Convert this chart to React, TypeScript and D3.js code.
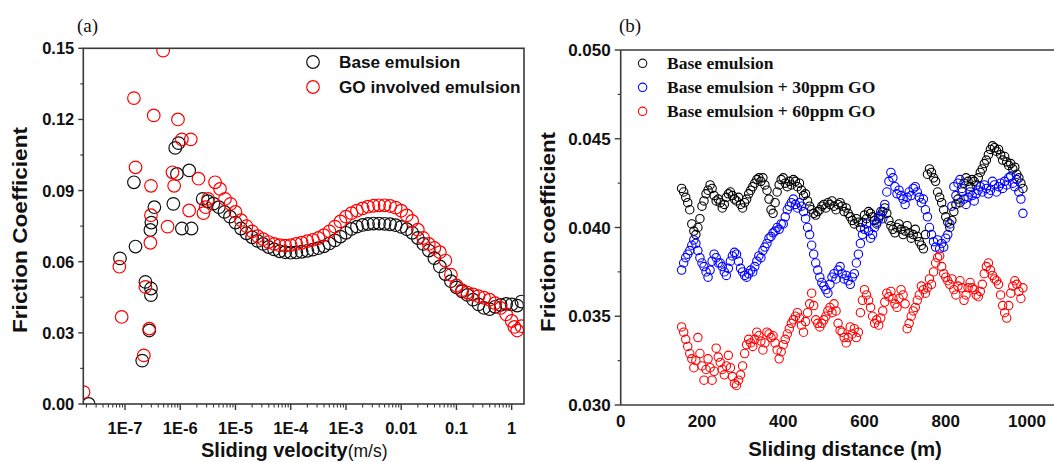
import React from "react";
import * as d3 from "d3";

const W = 1054;
const H = 462;
const SANS = "'Liberation Sans', Arial, Helvetica, sans-serif";
const SERIF = "'Liberation Serif', 'Times New Roman', serif";

// ---------- Panel (a): friction coefficient vs sliding velocity ----------
const velTicks = [1e-7, 1e-6, 1e-5, 1e-4, 1e-3, 0.01, 0.1, 1];
const velTickLabels = ["1E-7", "1E-6", "1E-5", "1E-4", "1E-3", "0.01", "0.1", "1"];
const cofTicksA = [0, 0.03, 0.06, 0.09, 0.12, 0.15];
const cofTickLabelsA = ["0.00", "0.03", "0.06", "0.09", "0.12", "0.15"];
const legendA = ["Base emulsion", "GO involved emulsion"];

const baseEmulsionA: [number, number][] = [
  [2.2e-8, 0.0], [8.1e-8, 0.0614], [1.45e-7, 0.0935], [1.55e-7, 0.0664], [2.05e-7, 0.0183],
  [2.34e-7, 0.0515], [2.75e-7, 0.031], [2.95e-7, 0.0487], [2.95e-7, 0.0459], [2.88e-7, 0.0734],
  [3.0e-7, 0.0765], [3.4e-7, 0.083], [7.5e-7, 0.0844], [8.1e-7, 0.108], [9.3e-7, 0.11],
  [8.7e-7, 0.097], [1.07e-6, 0.074], [1.45e-6, 0.0985], [1.6e-6, 0.074], [2.55e-6, 0.0865],
  [3.16e-6, 0.0855], [3.98e-6, 0.0845], [5.01e-6, 0.083], [6.31e-6, 0.081], [7.94e-6, 0.079],
  [1e-5, 0.0765], [1.26e-5, 0.074], [1.58e-5, 0.072], [2.0e-5, 0.0703], [2.51e-5, 0.0688],
  [3.16e-5, 0.0675], [3.98e-5, 0.0662], [5.01e-5, 0.0652], [6.31e-5, 0.0644], [7.94e-5, 0.064],
  [1e-4, 0.0638], [1.26e-4, 0.0639], [1.58e-4, 0.0642], [2.0e-4, 0.0646], [2.51e-4, 0.0651],
  [3.16e-4, 0.0657], [3.98e-4, 0.0665], [5.01e-4, 0.0677], [6.31e-4, 0.069], [7.94e-4, 0.0706],
  [1e-3, 0.0722], [1.26e-3, 0.0738], [1.58e-3, 0.0748], [2.0e-3, 0.0755], [2.51e-3, 0.0759],
  [3.16e-3, 0.0761], [3.98e-3, 0.0761], [5.01e-3, 0.076], [6.31e-3, 0.0758], [7.94e-3, 0.0754],
  [0.01, 0.0747], [0.0126, 0.0737], [0.0158, 0.0722], [0.02, 0.07], [0.0251, 0.0675],
  [0.0316, 0.0647], [0.0398, 0.0615], [0.0501, 0.058], [0.0631, 0.0548], [0.0794, 0.0518],
  [0.1, 0.0492], [0.126, 0.0475], [0.158, 0.046], [0.2, 0.044], [0.251, 0.042],
  [0.316, 0.0405], [0.398, 0.04], [0.501, 0.041], [0.631, 0.0418], [0.794, 0.0422],
  [1.0, 0.042], [1.26, 0.0415], [1.5, 0.0432],
];

const goEmulsionA: [number, number][] = [
  [1.78e-8, 0.005], [7.9e-8, 0.0579], [8.7e-8, 0.0367], [1.45e-7, 0.129], [1.55e-7, 0.0998],
  [2.19e-7, 0.0205], [2.34e-7, 0.0494], [2.75e-7, 0.0318], [2.88e-7, 0.068], [2.95e-7, 0.092],
  [2.95e-7, 0.0796], [3.31e-7, 0.1217], [4.9e-7, 0.149], [5.9e-7, 0.0748], [7.24e-7, 0.0977],
  [7.76e-7, 0.092], [9.1e-7, 0.12], [1.07e-6, 0.1116], [1.45e-6, 0.0816], [1.55e-6, 0.1116],
  [2.14e-6, 0.095], [2.63e-6, 0.0805], [2.88e-6, 0.083], [3.2e-6, 0.0865],
  [4.27e-6, 0.0935], [5.25e-6, 0.0907], [6.46e-6, 0.0865], [8.13e-6, 0.0844],
  [1e-5, 0.081], [1.26e-5, 0.0775], [1.58e-5, 0.075], [2.0e-5, 0.0728], [2.51e-5, 0.0708],
  [3.16e-5, 0.0695], [3.98e-5, 0.0683], [5.01e-5, 0.0675], [6.31e-5, 0.067], [7.94e-5, 0.0668],
  [1e-4, 0.067], [1.26e-4, 0.0675], [1.58e-4, 0.068], [2.0e-4, 0.0687], [2.51e-4, 0.0692],
  [3.16e-4, 0.07], [3.98e-4, 0.0712], [5.01e-4, 0.0728], [6.31e-4, 0.0748], [7.94e-4, 0.077],
  [1e-3, 0.079], [1.26e-3, 0.0805], [1.58e-3, 0.0815], [2.0e-3, 0.0825], [2.51e-3, 0.0832],
  [3.16e-3, 0.0836], [3.98e-3, 0.0838], [5.01e-3, 0.0838], [6.31e-3, 0.0835], [7.94e-3, 0.0828],
  [0.01, 0.0815], [0.0126, 0.0795], [0.0158, 0.0772], [0.02, 0.0735], [0.0251, 0.07],
  [0.0316, 0.0675], [0.0398, 0.0658], [0.0501, 0.064], [0.0631, 0.0605], [0.0794, 0.0545],
  [0.1, 0.05], [0.126, 0.048], [0.158, 0.047], [0.2, 0.0462], [0.251, 0.0455],
  [0.316, 0.0448], [0.398, 0.044], [0.501, 0.0425], [0.631, 0.0405], [0.794, 0.0378],
  [1.0, 0.035], [1.12, 0.0325], [1.26, 0.031], [1.5, 0.0328],
];

// ---------- Panel (b): friction coefficient vs sliding distance ----------
const distTicks = [0, 200, 400, 600, 800, 1000];
const cofTicksB = [0.03, 0.035, 0.04, 0.045, 0.05];
const cofTickLabelsB = ["0.030", "0.035", "0.040", "0.045", "0.050"];
const legendB = ["Base emulsion", "Base emulsion + 30ppm GO", "Base emulsion + 60ppm GO"];

const distance = [
  150, 155, 160, 165, 170, 175, 180, 185, 190, 195,
  200, 205, 210, 215, 220, 225, 230, 235, 240, 245,
  250, 255, 260, 265, 270, 275, 280, 285, 290, 295,
  300, 305, 310, 315, 320, 325, 330, 335, 340, 345,
  350, 355, 360, 365, 370, 375, 380, 385, 390, 395,
  400, 405, 410, 415, 420, 425, 430, 435, 440, 445,
  450, 455, 460, 465, 470, 475, 480, 485, 490, 495,
  500, 505, 510, 515, 520, 525, 530, 535, 540, 545,
  550, 555, 560, 565, 570, 575, 580, 585, 590, 595,
  600, 605, 610, 615, 620, 625, 630, 635, 640, 645,
  650, 655, 660, 665, 670, 675, 680, 685, 690, 695,
  700, 705, 710, 715, 720, 725, 730, 735, 740, 745,
  750, 755, 760, 765, 770, 775, 780, 785, 790, 795,
  800, 805, 810, 815, 820, 825, 830, 835, 840, 845,
  850, 855, 860, 865, 870, 875, 880, 885, 890, 895,
  900, 905, 910, 915, 920, 925, 930, 935, 940, 945,
  950, 955, 960, 965, 970, 975, 980, 985, 990,
];

const baseB = [
  0.0422, 0.042, 0.0417, 0.0414, 0.041, 0.0402, 0.0398, 0.0396, 0.04, 0.0405,
  0.0412, 0.0415, 0.0419, 0.0421, 0.0424, 0.0422, 0.0418, 0.0415, 0.0416, 0.0414,
  0.0411, 0.0413, 0.0417, 0.0419, 0.042, 0.0418, 0.0416, 0.0415, 0.0417, 0.0413,
  0.0411, 0.0414, 0.0416, 0.0419, 0.0421, 0.0423, 0.0425, 0.0427, 0.0428, 0.0426,
  0.0428, 0.0424, 0.0421, 0.0416, 0.041, 0.0408, 0.0414, 0.042, 0.0424, 0.0427,
  0.0428, 0.0425, 0.0423, 0.0426, 0.0424, 0.0427, 0.0426, 0.0423, 0.0425, 0.0421,
  0.0418, 0.0419, 0.0415, 0.0412, 0.041, 0.0408, 0.0407, 0.0409, 0.041, 0.0412,
  0.0413, 0.0411, 0.0414, 0.0413, 0.0415, 0.0412, 0.041, 0.0413, 0.0414, 0.0412,
  0.0409, 0.0411, 0.0408, 0.0406, 0.0404, 0.0402, 0.0405, 0.0403, 0.04, 0.0403,
  0.0407, 0.0405, 0.0409, 0.0408, 0.0406, 0.0404, 0.0402, 0.0405, 0.0407, 0.0409,
  0.0411, 0.0408, 0.0404, 0.0401, 0.0399, 0.0397, 0.04, 0.0402, 0.0399, 0.0396,
  0.0398, 0.0401, 0.0397, 0.0394, 0.0396, 0.0399, 0.0395, 0.0392, 0.039, 0.0388,
  0.0396, 0.043, 0.0433, 0.0431, 0.0428, 0.0426, 0.042, 0.0417, 0.0414, 0.041,
  0.0406, 0.0403, 0.04, 0.0404, 0.0409, 0.0413, 0.0416, 0.0414, 0.042, 0.0425,
  0.0428, 0.0426, 0.0423, 0.0427, 0.0426, 0.0424, 0.0428, 0.0431, 0.0433, 0.0436,
  0.0438, 0.0441, 0.0444, 0.0446, 0.0445, 0.0443, 0.0444, 0.0441, 0.0438, 0.044,
  0.0437, 0.0435, 0.0436, 0.0433, 0.0434, 0.043, 0.0428, 0.0425, 0.0422,
];

const go30B = [
  0.0376, 0.038, 0.0383, 0.0385, 0.0387, 0.039, 0.0393, 0.0391, 0.0387, 0.0383,
  0.038, 0.0378, 0.0375, 0.0372, 0.0376, 0.0381, 0.0385, 0.0383, 0.038, 0.038,
  0.0378, 0.0375, 0.0373, 0.0377, 0.0381, 0.0384, 0.0386, 0.0385, 0.0381, 0.0377,
  0.0375, 0.0373, 0.0372, 0.0374, 0.0376, 0.0375, 0.0378, 0.0381, 0.0384, 0.0383,
  0.0387, 0.0389, 0.0391, 0.0394, 0.0395, 0.0397, 0.0398, 0.04, 0.0399, 0.0402,
  0.0402, 0.0406, 0.041, 0.0412, 0.0414, 0.0416, 0.0413, 0.0411, 0.0414, 0.0412,
  0.0409, 0.0405, 0.04, 0.0396, 0.039, 0.0385, 0.038, 0.0376, 0.0372, 0.0369,
  0.0367, 0.0365, 0.0363, 0.0368, 0.0372, 0.0374, 0.0371, 0.0376, 0.0378, 0.0374,
  0.0371, 0.0373, 0.037, 0.0368, 0.0372, 0.0374, 0.038, 0.0385, 0.0391, 0.0396,
  0.0399, 0.0402, 0.0398, 0.0394, 0.0396, 0.04, 0.0403, 0.0406, 0.0409, 0.0405,
  0.0413, 0.042, 0.0426, 0.0431, 0.0428, 0.0423, 0.0419, 0.0421, 0.0418, 0.0416,
  0.0413, 0.0417, 0.042, 0.0418, 0.0422, 0.0423, 0.042, 0.0417, 0.0414, 0.0416,
  0.041, 0.0406, 0.04, 0.0396, 0.0392, 0.0389, 0.0393, 0.0388, 0.0391, 0.0389,
  0.0394, 0.0396, 0.0402, 0.0412, 0.0423, 0.0418, 0.0425, 0.0427, 0.0422, 0.0416,
  0.0413, 0.0417, 0.042, 0.0418, 0.0415, 0.0419, 0.0421, 0.0423, 0.042, 0.0424,
  0.0422, 0.0419, 0.0421, 0.0426, 0.0424, 0.042, 0.0423, 0.0425, 0.0422, 0.0426,
  0.0424, 0.0428, 0.0429, 0.0425, 0.0423, 0.0427, 0.042, 0.0416, 0.0408,
];

const go60B = [
  0.0344, 0.0341, 0.0337, 0.0333, 0.0329, 0.0326, 0.0321, 0.0325, 0.0338, 0.0329,
  0.0322, 0.0314, 0.032, 0.0326, 0.0321, 0.0314, 0.0319, 0.0332, 0.0327, 0.0324,
  0.032, 0.0317, 0.0322, 0.0328, 0.0321, 0.0316, 0.0312, 0.0311, 0.0314, 0.0317,
  0.0322, 0.0329, 0.0334, 0.0337, 0.0335, 0.0333, 0.0337, 0.0341, 0.0339, 0.0336,
  0.0331, 0.0335, 0.0341, 0.034, 0.0338, 0.0339, 0.0335, 0.0331, 0.0326, 0.033,
  0.0334, 0.0337, 0.034, 0.0343, 0.0346, 0.0348, 0.035, 0.0352, 0.0349, 0.0345,
  0.0341, 0.0347, 0.0352, 0.0357, 0.0363, 0.0356, 0.0348, 0.0346, 0.0344, 0.0346,
  0.0348, 0.035, 0.0353, 0.0355, 0.0352, 0.0357, 0.0353, 0.0346, 0.0342, 0.0341,
  0.0338, 0.0335, 0.0338, 0.0344, 0.034, 0.0343, 0.0338, 0.0341, 0.0352, 0.0359,
  0.0365, 0.0362, 0.0359, 0.0355, 0.035, 0.0346, 0.0348, 0.0345, 0.0349, 0.0353,
  0.0358, 0.0363, 0.0361, 0.0364, 0.036, 0.0357, 0.0355, 0.036, 0.0365, 0.0362,
  0.0357, 0.0343, 0.0346, 0.035, 0.0353, 0.0355, 0.0359, 0.0362, 0.0367, 0.0365,
  0.0363, 0.0366, 0.0371, 0.0368, 0.0375, 0.038, 0.0383, 0.0384, 0.0378, 0.0374,
  0.0372, 0.037, 0.0368, 0.0371, 0.0365, 0.0362, 0.0367, 0.037, 0.0366, 0.0359,
  0.0362, 0.0366, 0.0369, 0.0366, 0.0365, 0.0362, 0.0361, 0.0364, 0.0368, 0.0374,
  0.0378, 0.038, 0.0376, 0.0373, 0.0371, 0.037, 0.0368, 0.0362, 0.0356, 0.0352,
  0.0349, 0.0356, 0.0363, 0.0367, 0.037, 0.0368, 0.0364, 0.036, 0.0366,
];

const AX = { left: 83.3, right: 524, top: 48.3, bottom: 404 };
const BX = { left: 620.7, right: 1064, top: 50, bottom: 405 };
const FRAME = "#3a3a3a";

export default function App() {
  const xA = d3.scaleLog().domain([Math.pow(10, -7.755), Math.pow(10, 0.223)]).range([AX.left, AX.right]);
  const yA = d3.scaleLinear().domain([0, 0.15]).range([AX.bottom, AX.top]);
  const xB = d3.scaleLinear().domain([0, 1000]).range([BX.left, 1027]);
  const yB = d3.scaleLinear().domain([0.03, 0.05]).range([BX.bottom, BX.top]);

  const [d0, d1] = xA.domain();
  const minorX: number[] = [];
  for (let e = -8; e <= 0; e++) {
    for (let k = 2; k <= 9; k++) {
      const v = k * Math.pow(10, e);
      if (v > d0 && v < d1) minorX.push(v);
    }
  }
  const minorYA = d3.range(0.015, 0.15, 0.03);
  const minorYB = d3.range(0.0325, 0.05, 0.005);

  const baseB_pts = distance.map((d, i) => [d, baseB[i]]);
  const go30_pts = distance.map((d, i) => [d, go30B[i]]);
  const go60_pts = distance.map((d, i) => [d, go60B[i]]);
  const seriesB = [
    { pts: baseB_pts, color: "#000000" },
    { pts: go30_pts, color: "#0000ff" },
    { pts: go60_pts, color: "#ff0000" },
  ];

  return (
    <div style={{ position: "absolute", left: 0, top: 0 }}>
      <svg width={W} height={H} style={{ display: "block", background: "#fff" }}>
        <defs>
          <clipPath id="clipA">
            <rect x={AX.left} y={AX.top} width={AX.right - AX.left} height={AX.bottom - AX.top} />
          </clipPath>
          <clipPath id="clipB">
            <rect x={BX.left} y={BX.top} width={BX.right - BX.left} height={BX.bottom - BX.top} />
          </clipPath>
        </defs>

        {/* ================= Panel (a) ================= */}
        <text x={77} y={32} fontFamily={SERIF} fontSize={19} fill="#111">(a)</text>

        <g clipPath="url(#clipA)">
          {baseEmulsionA.map(([v, c], i) => (
            <circle key={"ba" + i} cx={xA(v)} cy={yA(c)} r={6.3} fill="none" stroke="#111" strokeWidth={1.2} />
          ))}
          {goEmulsionA.map(([v, c], i) => (
            <circle key={"ga" + i} cx={xA(v)} cy={yA(c)} r={6.3} fill="none" stroke="#ff0000" strokeWidth={1.2} />
          ))}
        </g>

        <rect x={AX.left} y={AX.top} width={AX.right - AX.left} height={AX.bottom - AX.top}
          fill="none" stroke={FRAME} strokeWidth={1.6} />

        {/* y ticks a */}
        {cofTicksA.map((t, i) => (
          <g key={"yta" + i}>
            <line x1={AX.left - 5} x2={AX.left} y1={yA(t)} y2={yA(t)} stroke={FRAME} strokeWidth={1.4} />
            <text x={AX.left - 9} y={yA(t)} dy="0.36em" textAnchor="end" fontFamily={SANS}
              fontWeight="bold" fontSize={16.5} fill="#111">{cofTickLabelsA[i]}</text>
          </g>
        ))}
        {minorYA.map((t, i) => (
          <line key={"ymA" + i} x1={AX.left - 3} x2={AX.left} y1={yA(t)} y2={yA(t)} stroke={FRAME} strokeWidth={1.2} />
        ))}

        {/* x ticks a */}
        {velTicks.map((t, i) => (
          <g key={"xta" + i}>
            <line x1={xA(t)} x2={xA(t)} y1={AX.bottom} y2={AX.bottom + 6} stroke={FRAME} strokeWidth={1.4} />
            <text x={xA(t)} y={434} textAnchor="middle" fontFamily={SANS} fontWeight="bold"
              fontSize={16.5} fill="#111">{velTickLabels[i]}</text>
          </g>
        ))}
        {minorX.map((t, i) => (
          <line key={"xmA" + i} x1={xA(t)} x2={xA(t)} y1={AX.bottom} y2={AX.bottom + 3.5} stroke={FRAME} strokeWidth={1.1} />
        ))}

        {/* axis titles a */}
        <text x={201} y={457} fontFamily={SANS} fill="#111">
          <tspan fontWeight="bold" fontSize={20}>Sliding velocity</tspan>
          <tspan fontSize={17.5}>(m/s)</tspan>
        </text>
        <text transform={`translate(27, ${230}) rotate(-90)`} textAnchor="middle" fontFamily={SANS}
          fontWeight="bold" fontSize={20.5} fill="#111" textLength={206} lengthAdjust="spacingAndGlyphs">
          Friction Coefficient
        </text>

        {/* legend a */}
        {legendA.map((lab, i) => (
          <g key={"lga" + i}>
            <circle cx={313} cy={62 + i * 25} r={6.3} fill="none" stroke={i === 0 ? "#111" : "#ff0000"} strokeWidth={1.2} />
            <text x={339} y={68 + i * 25} fontFamily={SANS} fontWeight="bold" fontSize={17.2} fill="#111">{lab}</text>
          </g>
        ))}

        {/* ================= Panel (b) ================= */}
        <text x={619} y={32} fontFamily={SERIF} fontSize={19} fill="#111">(b)</text>

        <g clipPath="url(#clipB)">
          {seriesB.map((s, si) =>
            s.pts.map(([d, c], i) => (
              <circle key={"b" + si + "-" + i} cx={xB(d)} cy={yB(c)} r={4.2} fill="none" stroke={s.color} strokeWidth={1.1} />
            ))
          )}
        </g>

        <line x1={BX.left} x2={BX.right} y1={BX.top} y2={BX.top} stroke={FRAME} strokeWidth={1.6} />
        <line x1={BX.left} x2={BX.right} y1={BX.bottom} y2={BX.bottom} stroke={FRAME} strokeWidth={1.6} />
        <line x1={BX.left} x2={BX.left} y1={BX.top} y2={BX.bottom} stroke={FRAME} strokeWidth={1.6} />

        {cofTicksB.map((t, i) => (
          <g key={"ytb" + i}>
            <line x1={BX.left - 6} x2={BX.left} y1={yB(t)} y2={yB(t)} stroke={FRAME} strokeWidth={1.4} />
            <text x={BX.left - 10} y={yB(t)} dy="0.36em" textAnchor="end" fontFamily={SANS}
              fontWeight="bold" fontSize={17} fill="#111">{cofTickLabelsB[i]}</text>
          </g>
        ))}
        {minorYB.map((t, i) => (
          <line key={"ymB" + i} x1={BX.left - 3} x2={BX.left} y1={yB(t)} y2={yB(t)} stroke={FRAME} strokeWidth={1.2} />
        ))}
        {distTicks.map((t, i) => (
          <text key={"xtb" + i} x={xB(t)} y={427} textAnchor="middle" fontFamily={SANS}
            fontWeight="bold" fontSize={17} fill="#111">{t}</text>
        ))}

        <text x={845} y={456} textAnchor="middle" fontFamily={SANS} fontWeight="bold" fontSize={20.4} fill="#111">
          Sliding distance (m)
        </text>
        <text transform={`translate(555, ${232}) rotate(-90)`} textAnchor="middle" fontFamily={SANS}
          fontWeight="bold" fontSize={20.5} fill="#111" textLength={200} lengthAdjust="spacingAndGlyphs">
          Friction coefficient
        </text>

        {legendB.map((lab, i) => (
          <g key={"lgb" + i}>
            <circle cx={642.6} cy={63.3 + i * 24} r={4.2} fill="none"
              stroke={["#111", "#0000ff", "#ff0000"][i]} strokeWidth={1.1} />
            <text x={667} y={69 + i * 24} fontFamily={SERIF} fontWeight="bold" fontSize={17.5} fill="#111">{lab}</text>
          </g>
        ))}
      </svg>
    </div>
  );
}
